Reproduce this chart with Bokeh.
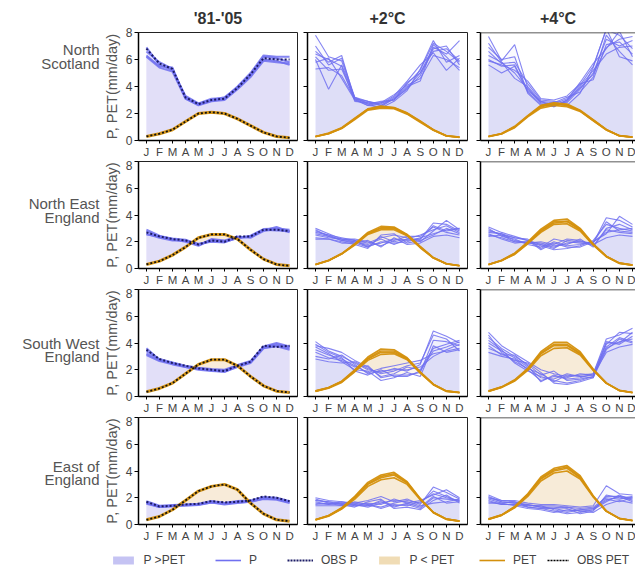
import numpy as np
from bokeh.plotting import figure
from bokeh.layouts import column, row
from bokeh.models import Range1d, FixedTicker, Label, Legend, LegendItem, Span
from bokeh.embed import file_html
from bokeh.resources import INLINE

FONT = "Liberation Sans"
MONTHS = ["J", "F", "M", "A", "M", "J", "J", "A", "S", "O", "N", "D"]
MONTH_X = [1, 2, 3, 4, 5, 6, 7, 8, 9, 10, 11, 12]
Y_TICKS = [0, 2, 4, 6, 8]
PERIODS = ["'81-'05", "+2°C", "+4°C"]
REGION_LINES = [["North", "Scotland"], ["North East", "England"],
                ["South West", "England"], ["East of", "England"]]

# ---------------- North Scotland ----------------
NS_OBS_P = [6.8, 5.7, 5.3, 3.2, 2.7, 3.0, 3.1, 3.9, 4.9, 6.1, 6.0, 6.0]
NS_OBS_PET = [0.3, 0.5, 0.8, 1.4, 2.0, 2.1, 2.0, 1.6, 1.1, 0.6, 0.3, 0.2]
NS_HIST_P = [
    [6.9, 5.6, 5.2, 3.3, 2.75, 3.1, 3.15, 4.0, 5.0, 6.3, 6.2, 6.2],
    [6.3, 5.5, 5.4, 3.1, 2.65, 2.95, 3.05, 3.85, 4.8, 6.0, 5.9, 5.6],
    [6.6, 5.8, 5.3, 3.2, 2.7, 3.0, 3.2, 3.95, 4.9, 6.2, 6.1, 5.8],
    [6.2, 5.4, 5.1, 3.1, 2.6, 2.9, 3.0, 3.8, 4.7, 5.9, 5.8, 5.7],
]
NS2_P = [
    [7.8, 6.2, 5.9, 3.1, 2.8, 2.6, 3.2, 4.2, 5.2, 7.2, 6.6, 5.8],
    [6.6, 5.8, 6.3, 3.0, 2.7, 2.9, 3.0, 3.9, 5.0, 6.9, 6.4, 7.4],
    [6.0, 3.8, 5.6, 3.2, 2.9, 2.7, 3.3, 4.4, 5.6, 6.5, 5.2, 6.1],
    [5.3, 5.4, 4.8, 3.1, 2.6, 2.5, 3.1, 3.8, 4.8, 6.8, 7.0, 5.6],
    [6.4, 6.0, 5.5, 2.9, 2.8, 2.8, 3.4, 4.1, 4.6, 6.3, 6.0, 5.4],
    [7.0, 5.6, 6.1, 3.2, 2.7, 2.4, 2.9, 3.7, 5.3, 7.4, 5.8, 6.3],
    [5.8, 6.1, 4.6, 3.0, 2.6, 2.8, 3.0, 4.3, 5.0, 6.6, 6.8, 5.9],
    [6.2, 5.2, 5.3, 3.1, 2.9, 2.6, 3.1, 4.0, 4.4, 7.1, 6.2, 5.2],
]
NS2_PET = [
    [0.3, 0.5, 0.9, 1.6, 2.3, 2.45, 2.4, 2.0, 1.4, 0.8, 0.35, 0.25],
    [0.3, 0.55, 0.95, 1.65, 2.35, 2.55, 2.45, 2.05, 1.45, 0.8, 0.35, 0.25],
    [0.28, 0.5, 0.88, 1.55, 2.25, 2.4, 2.35, 1.95, 1.35, 0.75, 0.33, 0.22],
    [0.3, 0.52, 0.92, 1.62, 2.32, 2.5, 2.42, 2.02, 1.42, 0.78, 0.34, 0.24],
]
NS4_P = [
    [7.7, 5.9, 7.1, 3.9, 2.8, 2.7, 3.1, 4.1, 5.5, 8.2, 7.8, 6.8],
    [6.6, 5.7, 5.8, 4.2, 3.0, 2.9, 2.8, 3.8, 5.0, 7.5, 7.0, 7.4],
    [5.6, 5.0, 5.5, 3.6, 2.7, 2.5, 3.0, 4.3, 5.7, 6.8, 8.1, 6.2],
    [7.2, 5.8, 4.6, 4.0, 2.9, 2.8, 3.2, 3.6, 4.7, 7.8, 6.6, 5.6],
    [6.9, 6.0, 6.2, 3.5, 2.6, 2.6, 2.9, 4.0, 5.2, 6.4, 6.9, 7.0],
    [5.9, 5.6, 5.2, 4.4, 3.1, 3.0, 3.3, 4.2, 4.5, 7.1, 7.3, 6.4],
    [6.3, 5.8, 5.0, 3.8, 2.8, 2.7, 2.6, 3.5, 5.4, 8.3, 6.2, 5.9],
    [6.0, 5.5, 5.6, 3.7, 2.9, 2.5, 3.0, 3.9, 4.9, 6.9, 7.5, 7.7],
]
NS4_PET = [
    [0.3, 0.5, 1.0, 1.8, 2.5, 2.7, 2.6, 2.2, 1.5, 0.8, 0.35, 0.25],
    [0.32, 0.52, 1.05, 1.85, 2.6, 2.8, 2.7, 2.25, 1.55, 0.82, 0.36, 0.26],
    [0.28, 0.48, 0.95, 1.75, 2.4, 2.6, 2.5, 2.15, 1.45, 0.78, 0.34, 0.24],
    [0.3, 0.5, 1.0, 1.8, 2.55, 2.75, 2.65, 2.2, 1.5, 0.8, 0.35, 0.25],
]

# ---------------- North East England ----------------
NE_OBS_P = [2.7, 2.4, 2.2, 2.1, 1.8, 2.1, 2.0, 2.4, 2.4, 2.9, 2.9, 2.8]
NE_OBS_PET = [0.3, 0.55, 1.0, 1.6, 2.3, 2.55, 2.55, 2.2, 1.4, 0.7, 0.3, 0.2]
NE_HIST_P = [
    [2.8, 2.35, 2.15, 2.05, 1.75, 2.2, 2.1, 2.35, 2.35, 2.85, 3.1, 2.75],
    [2.6, 2.3, 2.1, 2.1, 1.85, 2.0, 1.95, 2.3, 2.45, 2.95, 3.0, 2.9],
    [2.9, 2.45, 2.2, 2.0, 1.7, 2.15, 2.05, 2.4, 2.3, 2.8, 2.95, 2.7],
    [2.55, 2.4, 2.25, 2.15, 1.8, 2.05, 2.0, 2.25, 2.4, 2.9, 2.85, 2.8],
]
NE2_P = [
    [3.0, 2.6, 2.2, 2.0, 1.7, 1.9, 2.2, 2.1, 2.2, 3.4, 3.3, 2.8],
    [2.8, 2.5, 2.3, 2.1, 1.9, 2.3, 2.5, 2.3, 2.0, 2.8, 3.6, 2.9],
    [2.6, 2.4, 2.1, 1.9, 1.6, 2.0, 1.9, 2.0, 2.3, 2.6, 2.9, 3.0],
    [2.5, 2.3, 2.2, 2.2, 2.0, 1.7, 2.1, 2.4, 2.4, 3.1, 2.7, 2.5],
    [2.3, 2.2, 2.0, 1.8, 1.5, 2.5, 2.6, 1.9, 2.1, 2.5, 3.0, 2.6],
    [2.7, 2.5, 2.1, 2.0, 1.8, 2.2, 1.8, 2.2, 2.5, 2.9, 3.2, 2.7],
    [2.2, 2.2, 1.9, 1.9, 2.1, 1.6, 2.3, 1.8, 1.9, 2.4, 2.5, 2.3],
    [2.9, 2.4, 2.2, 2.1, 1.6, 2.4, 2.0, 2.2, 2.2, 3.2, 2.8, 3.0],
]
NE2_PET = [
    [0.3, 0.6, 1.1, 1.8, 2.6, 3.0, 3.0, 2.5, 1.6, 0.8, 0.35, 0.2],
    [0.3, 0.62, 1.12, 1.85, 2.7, 3.15, 3.1, 2.55, 1.65, 0.82, 0.36, 0.22],
    [0.28, 0.58, 1.08, 1.75, 2.55, 2.9, 2.9, 2.45, 1.55, 0.78, 0.34, 0.2],
    [0.3, 0.6, 1.1, 1.82, 2.65, 3.05, 3.05, 2.5, 1.6, 0.8, 0.35, 0.21],
]
NE4_P = [
    [3.1, 2.7, 2.4, 2.1, 1.8, 1.6, 1.9, 2.0, 1.9, 3.8, 3.6, 3.1],
    [2.9, 2.5, 2.3, 2.2, 1.5, 2.0, 1.7, 1.8, 2.0, 2.6, 3.9, 3.3],
    [2.7, 2.6, 2.1, 1.9, 2.0, 1.8, 2.2, 2.1, 1.7, 2.9, 2.7, 2.6],
    [2.5, 2.3, 2.0, 2.0, 1.7, 1.4, 1.5, 1.7, 2.1, 3.3, 3.0, 2.8],
    [3.0, 2.4, 2.2, 1.8, 1.6, 2.2, 2.0, 1.9, 1.8, 2.3, 2.5, 2.4],
    [2.6, 2.2, 1.9, 2.0, 1.9, 1.7, 1.8, 2.2, 1.6, 3.0, 3.3, 2.9],
    [2.8, 2.6, 2.3, 2.1, 1.4, 1.9, 1.6, 1.6, 2.0, 2.7, 2.9, 3.0],
    [2.4, 2.5, 2.0, 1.9, 1.8, 1.5, 2.1, 2.0, 1.9, 3.5, 2.8, 2.7],
]
NE4_PET = [
    [0.3, 0.6, 1.1, 1.9, 2.8, 3.4, 3.5, 2.9, 1.8, 0.9, 0.4, 0.25],
    [0.3, 0.62, 1.15, 2.0, 2.95, 3.6, 3.7, 3.0, 1.85, 0.92, 0.42, 0.26],
    [0.28, 0.58, 1.05, 1.85, 2.7, 3.3, 3.35, 2.8, 1.75, 0.88, 0.38, 0.24],
    [0.3, 0.6, 1.12, 1.92, 2.85, 3.5, 3.55, 2.95, 1.8, 0.9, 0.4, 0.25],
]

# ---------------- South West England ----------------
SW_OBS_P = [3.5, 2.8, 2.5, 2.3, 2.1, 2.0, 1.9, 2.3, 2.6, 3.8, 3.7, 3.8]
SW_OBS_PET = [0.35, 0.6, 1.0, 1.7, 2.4, 2.75, 2.75, 2.3, 1.5, 0.8, 0.4, 0.3]
SW_HIST_P = [
    [3.6, 2.75, 2.45, 2.25, 2.1, 2.0, 1.95, 2.3, 2.6, 3.7, 3.9, 3.7],
    [3.2, 2.7, 2.5, 2.2, 2.05, 1.95, 1.85, 2.25, 2.55, 3.65, 3.8, 3.6],
    [3.4, 2.8, 2.55, 2.3, 2.15, 2.05, 2.0, 2.35, 2.65, 3.75, 4.0, 3.75],
    [3.1, 2.65, 2.4, 2.2, 2.0, 1.9, 1.85, 2.2, 2.5, 3.6, 3.75, 3.5],
]
SW2_P = [
    [4.1, 3.4, 3.0, 2.5, 2.0, 1.8, 2.1, 1.9, 2.4, 4.9, 4.5, 4.0],
    [3.8, 3.6, 3.3, 2.7, 2.2, 1.5, 1.7, 2.2, 2.0, 3.6, 3.9, 4.2],
    [3.5, 3.1, 2.8, 2.3, 1.8, 2.1, 2.3, 2.5, 2.7, 3.2, 3.4, 3.6],
    [3.3, 2.9, 2.7, 2.2, 2.3, 1.4, 1.6, 1.6, 1.8, 4.2, 4.1, 3.8],
    [3.0, 2.8, 3.1, 2.4, 1.7, 1.9, 2.0, 2.0, 2.2, 3.0, 3.5, 3.9],
    [3.7, 3.2, 2.6, 2.0, 1.9, 1.2, 1.4, 1.8, 1.5, 3.8, 3.3, 3.5],
    [2.8, 2.6, 2.5, 2.6, 2.1, 1.7, 1.9, 2.3, 2.5, 4.6, 4.3, 3.4],
    [3.9, 3.3, 2.9, 1.9, 1.6, 2.0, 1.5, 1.5, 1.9, 3.4, 3.7, 4.1],
]
SW2_PET = [
    [0.4, 0.65, 1.1, 1.9, 2.8, 3.3, 3.3, 2.8, 1.8, 0.9, 0.4, 0.3],
    [0.42, 0.68, 1.15, 2.0, 2.95, 3.55, 3.5, 2.9, 1.85, 0.92, 0.42, 0.3],
    [0.38, 0.62, 1.05, 1.85, 2.7, 3.15, 3.2, 2.75, 1.75, 0.88, 0.38, 0.28],
    [0.4, 0.65, 1.12, 1.95, 2.85, 3.4, 3.4, 2.85, 1.8, 0.9, 0.4, 0.3],
]
SW4_P = [
    [4.8, 3.8, 3.2, 2.6, 2.0, 1.7, 1.5, 1.6, 1.7, 4.3, 4.6, 5.1],
    [4.4, 3.6, 3.0, 2.4, 1.6, 1.9, 1.2, 1.3, 1.5, 3.9, 4.8, 4.7],
    [4.0, 3.4, 2.9, 2.2, 1.4, 1.3, 1.7, 1.5, 1.6, 3.6, 4.1, 4.3],
    [3.6, 3.2, 2.7, 2.5, 1.8, 1.0, 0.9, 1.1, 1.4, 4.1, 3.9, 4.5],
    [3.3, 3.0, 2.8, 2.0, 1.2, 1.5, 1.4, 1.7, 1.6, 3.3, 3.7, 3.9],
    [4.2, 3.5, 2.5, 1.9, 1.5, 1.2, 1.0, 1.2, 1.5, 3.7, 4.4, 4.1],
    [3.8, 3.1, 3.1, 2.3, 1.1, 1.6, 1.3, 1.4, 1.7, 4.0, 4.0, 4.8],
    [4.6, 3.3, 2.6, 2.1, 1.7, 1.1, 1.6, 1.5, 1.4, 3.5, 4.3, 4.0],
]
SW4_PET = [
    [0.4, 0.7, 1.2, 2.0, 3.2, 3.8, 3.8, 3.2, 2.0, 1.0, 0.45, 0.3],
    [0.42, 0.72, 1.25, 2.1, 3.35, 4.05, 4.05, 3.35, 2.05, 1.02, 0.46, 0.3],
    [0.38, 0.68, 1.15, 1.95, 3.05, 3.6, 3.65, 3.1, 1.95, 0.98, 0.44, 0.28],
    [0.4, 0.7, 1.2, 2.05, 3.25, 3.9, 3.9, 3.25, 2.0, 1.0, 0.45, 0.3],
]

# ---------------- East of England ----------------
EE_OBS_P = [1.7, 1.35, 1.4, 1.5, 1.55, 1.75, 1.65, 1.7, 1.8, 2.1, 2.0, 1.75]
EE_OBS_PET = [0.35, 0.6, 1.1, 1.8, 2.5, 2.85, 3.0, 2.6, 1.6, 0.8, 0.35, 0.25]
EE_HIST_P = [
    [1.65, 1.35, 1.4, 1.45, 1.5, 1.7, 1.6, 1.7, 1.75, 2.0, 1.95, 1.7],
    [1.55, 1.3, 1.35, 1.45, 1.5, 1.65, 1.55, 1.65, 1.7, 1.95, 1.9, 1.65],
    [1.75, 1.4, 1.45, 1.5, 1.55, 1.75, 1.6, 1.75, 1.8, 2.05, 2.0, 1.75],
    [1.6, 1.3, 1.4, 1.4, 1.45, 1.65, 1.5, 1.6, 1.7, 1.9, 1.85, 1.6],
]
EE2_P = [
    [2.0, 1.8, 1.7, 1.6, 1.8, 2.1, 1.7, 1.9, 1.5, 2.8, 2.4, 1.9],
    [1.8, 1.7, 1.5, 1.5, 1.6, 1.5, 1.9, 1.6, 1.8, 2.2, 2.6, 2.0],
    [1.6, 1.5, 1.6, 1.4, 1.4, 1.8, 1.4, 1.5, 1.2, 2.0, 1.9, 1.8],
    [1.4, 1.4, 1.4, 1.7, 1.5, 1.3, 1.6, 1.8, 1.6, 2.5, 2.1, 1.7],
    [1.9, 1.6, 1.5, 1.3, 1.7, 1.9, 1.2, 1.3, 1.1, 1.8, 2.2, 1.6],
    [1.7, 1.5, 1.7, 1.5, 1.3, 1.6, 1.8, 1.7, 1.4, 1.6, 1.7, 1.9],
    [1.5, 1.6, 1.4, 1.4, 1.5, 1.2, 1.5, 1.4, 1.7, 2.3, 2.0, 1.8],
    [1.8, 1.7, 1.6, 1.6, 1.4, 1.7, 1.3, 1.6, 1.3, 2.1, 1.6, 1.7],
]
EE2_PET = [
    [0.35, 0.65, 1.2, 2.0, 3.0, 3.5, 3.7, 3.1, 1.9, 0.9, 0.4, 0.25],
    [0.37, 0.68, 1.25, 2.1, 3.15, 3.7, 3.9, 3.2, 1.95, 0.92, 0.42, 0.26],
    [0.33, 0.62, 1.15, 1.9, 2.85, 3.35, 3.5, 3.0, 1.85, 0.88, 0.38, 0.24],
    [0.35, 0.65, 1.2, 2.05, 3.05, 3.6, 3.8, 3.15, 1.9, 0.9, 0.4, 0.25],
]
EE4_P = [
    [2.2, 1.8, 1.8, 1.6, 1.5, 1.5, 1.4, 1.3, 1.4, 2.9, 2.3, 2.2],
    [2.0, 1.7, 1.6, 1.5, 1.3, 1.2, 1.0, 1.1, 1.2, 1.8, 2.1, 2.0],
    [1.9, 1.6, 1.7, 1.4, 1.4, 1.4, 1.3, 1.2, 1.3, 2.0, 1.9, 2.1],
    [1.7, 1.5, 1.5, 1.3, 1.2, 1.0, 0.8, 0.9, 1.1, 1.7, 2.2, 1.8],
    [1.6, 1.6, 1.4, 1.2, 1.1, 0.9, 1.1, 1.0, 0.9, 1.5, 1.8, 1.6],
    [2.1, 1.7, 1.6, 1.5, 1.3, 1.3, 1.2, 0.8, 1.0, 2.2, 2.0, 1.9],
    [1.8, 1.5, 1.5, 1.4, 1.4, 1.1, 0.9, 1.1, 1.2, 1.9, 1.7, 2.0],
    [2.0, 1.8, 1.7, 1.3, 1.2, 1.2, 1.3, 1.0, 1.1, 2.1, 2.1, 1.7],
]
EE4_PET = [
    [0.4, 0.7, 1.3, 2.2, 3.4, 4.0, 4.2, 3.5, 2.1, 1.0, 0.45, 0.3],
    [0.42, 0.72, 1.35, 2.3, 3.55, 4.2, 4.4, 3.65, 2.15, 1.02, 0.46, 0.3],
    [0.38, 0.68, 1.25, 2.1, 3.25, 3.85, 4.0, 3.4, 2.05, 0.98, 0.44, 0.28],
    [0.4, 0.7, 1.3, 2.25, 3.45, 4.1, 4.3, 3.55, 2.1, 1.0, 0.45, 0.3],
]

PANELS = [
    [(NS_HIST_P, [NS_OBS_PET], NS_OBS_P, NS_OBS_PET), (NS2_P, NS2_PET, None, None), (NS4_P, NS4_PET, None, None)],
    [(NE_HIST_P, [NE_OBS_PET], NE_OBS_P, NE_OBS_PET), (NE2_P, NE2_PET, None, None), (NE4_P, NE4_PET, None, None)],
    [(SW_HIST_P, [SW_OBS_PET], SW_OBS_P, SW_OBS_PET), (SW2_P, SW2_PET, None, None), (SW4_P, SW4_PET, None, None)],
    [(EE_HIST_P, [EE_OBS_PET], EE_OBS_P, EE_OBS_PET), (EE2_P, EE2_PET, None, None), (EE4_P, EE4_PET, None, None)],
]

# ---------------- styling / layout ----------------
P_LINE = "#7070f0"
P_FILL = "#c5c3f3"
D_FILL = "#f0dcb5"
PET_LINE = "#d4900c"
OBS_P_COL = "#1c1c66"
OBS_PET_COL = "#111111"
TEXT_COL = "#444444"
ROW_LABEL_Y = [[6.74, 5.70], [4.89, 3.85], [4.0, 2.96], [4.37, 3.33]]
LABEL_W = 100
X_START = 0.39
X_END = [12.61, 12.61, 12.23]
FRAME_W = [160, 160, 155]
LEFT = [37, 8, 8]
RIGHT = [2, 5, 0]
FRAME_H = 108
TOTAL_OPACITY = 0.5


def borders(r):
    return (32, 20) if r == 0 else (1, 19)


def make_label_fig(r):
    top, bottom = borders(r)
    f = figure(width=LABEL_W, height=top + FRAME_H + bottom,
               x_range=Range1d(0, 1), y_range=Range1d(0, 8),
               output_backend="svg", toolbar_location=None, title=None,
               min_border_left=0, min_border_right=0,
               min_border_top=top, min_border_bottom=bottom,
               x_axis_location=None, y_axis_location=None, outline_line_color=None)
    f.xgrid.visible = False
    f.ygrid.visible = False
    for k, txt in enumerate(REGION_LINES[r]):
        f.add_layout(Label(x=1, y=ROW_LABEL_Y[r][k], x_offset=-1, text=txt,
                           text_align="right", text_baseline="middle",
                           text_font=FONT, text_font_size="15px",
                           text_color="#555555"))
    return f


def make_panel(r, c):
    P, PET, oP, oPET = PANELS[r][c]
    first = r == 0
    top, bottom = borders(r)
    p = figure(width=LEFT[c] + FRAME_W[c] + RIGHT[c], height=top + FRAME_H + bottom,
               x_range=Range1d(X_START, X_END[c]), y_range=Range1d(0, 8),
               output_backend="svg", toolbar_location=None,
               title=PERIODS[c] if first else None,
               min_border_left=LEFT[c], min_border_right=RIGHT[c],
               min_border_top=top, min_border_bottom=bottom,
               background_fill_color="white", border_fill_color="white")
    if first:
        p.title.text_font = FONT
        p.title.text_font_size = "16px"
        p.title.text_font_style = "bold"
        p.title.text_color = "#333333"
        p.title.align = "center"
        p.title.standoff = 11
    if c < 2:
        p.outline_line_color = "#222222"
        p.outline_line_width = 1
    else:
        p.outline_line_color = None
        p.add_layout(Span(location=8, dimension="width", line_color="#222222", line_width=1.5))
    p.xgrid.visible = False
    p.ygrid.visible = False

    n = len(P)
    alpha = 1 - (1 - TOTAL_OPACITY) ** (1.0 / n)
    xs = np.linspace(1, 12, 221)
    for i, pm in enumerate(P):
        em = PET[i % len(PET)]
        pi = np.interp(xs, MONTH_X, pm)
        ei = np.interp(xs, MONTH_X, em)
        top_y = np.maximum(pi, ei)
        p.varea(x=xs, y1=ei, y2=top_y, fill_color=P_FILL, fill_alpha=alpha)
        p.varea(x=xs, y1=pi, y2=top_y, fill_color=D_FILL, fill_alpha=alpha)
    for pm in P:
        p.line(MONTH_X, pm, line_color=P_LINE, line_width=2 if c == 0 else 1.1,
               line_alpha=0.85)
    for em in PET:
        p.line(MONTH_X, em, line_color=PET_LINE, line_width=3 if c == 0 else 1.6,
               line_alpha=0.95)
    if oP is not None:
        p.line(MONTH_X, oP, line_color=OBS_P_COL, line_width=2, line_dash="2 2")
        p.line(MONTH_X, oPET, line_color=OBS_PET_COL, line_width=1.8, line_dash="2 2")

    p.xaxis.ticker = FixedTicker(ticks=MONTH_X)
    p.xaxis.major_label_overrides = {m: lab for m, lab in zip(MONTH_X, MONTHS)}
    p.yaxis.ticker = FixedTicker(ticks=Y_TICKS)
    for ax in p.axis:
        ax.axis_line_color = "black"
        ax.axis_line_width = 1.5
        ax.major_tick_line_color = "black"
        ax.major_tick_line_width = 1
        ax.minor_tick_line_color = None
        ax.major_tick_in = 0
        ax.major_label_text_font = FONT
        ax.major_label_text_color = TEXT_COL
    p.xaxis.major_tick_out = 3
    p.xaxis.major_label_standoff = 2
    p.xaxis.major_label_text_font_size = "11.5px"
    p.yaxis.major_tick_out = 4
    if c == 0:
        p.yaxis.major_label_standoff = 2
        p.yaxis.major_label_text_font_size = "12px"
        p.yaxis.axis_label = "P, PET(mm/day)"
        p.yaxis.axis_label_text_font = FONT
        p.yaxis.axis_label_text_font_size = "14.5px"
        p.yaxis.axis_label_text_font_style = "normal"
        p.yaxis.axis_label_text_color = "#555555"
        p.yaxis.axis_label_standoff = 3
    else:
        p.yaxis.major_label_standoff = 0
        p.yaxis.major_label_overrides = {t: "" for t in Y_TICKS}
    return p


rows = [row(make_label_fig(r), *[make_panel(r, c) for c in range(3)]) for r in range(4)]

# ---------------- legend strip ----------------
LEGEND_LABELS = ["P >PET", "P", "OBS P", "P < PET", "PET", "OBS PET"]
LEGEND_X = [109.5, 215, 287, 375.5, 479, 547]
NAN = [float("nan")]

lp = figure(width=635, height=24, x_range=Range1d(0, 1), y_range=Range1d(0, 1),
            output_backend="svg", toolbar_location=None, title=None, min_border=0,
            x_axis_location=None, y_axis_location=None, outline_line_color=None)
lp.xgrid.visible = False
lp.ygrid.visible = False
leg_renderers = [
    lp.varea(x=NAN, y1=NAN, y2=NAN, fill_color=P_FILL, fill_alpha=1),
    lp.line(x=NAN, y=NAN, line_color=P_LINE, line_width=1.6),
    lp.line(x=NAN, y=NAN, line_color=OBS_P_COL, line_width=2, line_dash="2 1"),
    lp.varea(x=NAN, y1=NAN, y2=NAN, fill_color=D_FILL, fill_alpha=1),
    lp.line(x=NAN, y=NAN, line_color=PET_LINE, line_width=1.6),
    lp.line(x=NAN, y=NAN, line_color="black", line_width=1.5, line_dash="2 1"),
]
for lab, rend, lx in zip(LEGEND_LABELS, leg_renderers, LEGEND_X):
    leg = Legend(items=[LegendItem(label=lab, renderers=[rend])], location=(lx, 1),
                 orientation="horizontal", padding=0, margin=0, spacing=0,
                 border_line_alpha=0, background_fill_alpha=0,
                 glyph_width=26 if lab != "OBS PET" else 22, glyph_height=10,
                 label_standoff=8,
                 label_text_font=FONT, label_text_font_size="12px",
                 label_text_color=TEXT_COL)
    lp.add_layout(leg)

layout = column(*rows, lp)
open("out.html", "w").write(file_html(layout, INLINE))
